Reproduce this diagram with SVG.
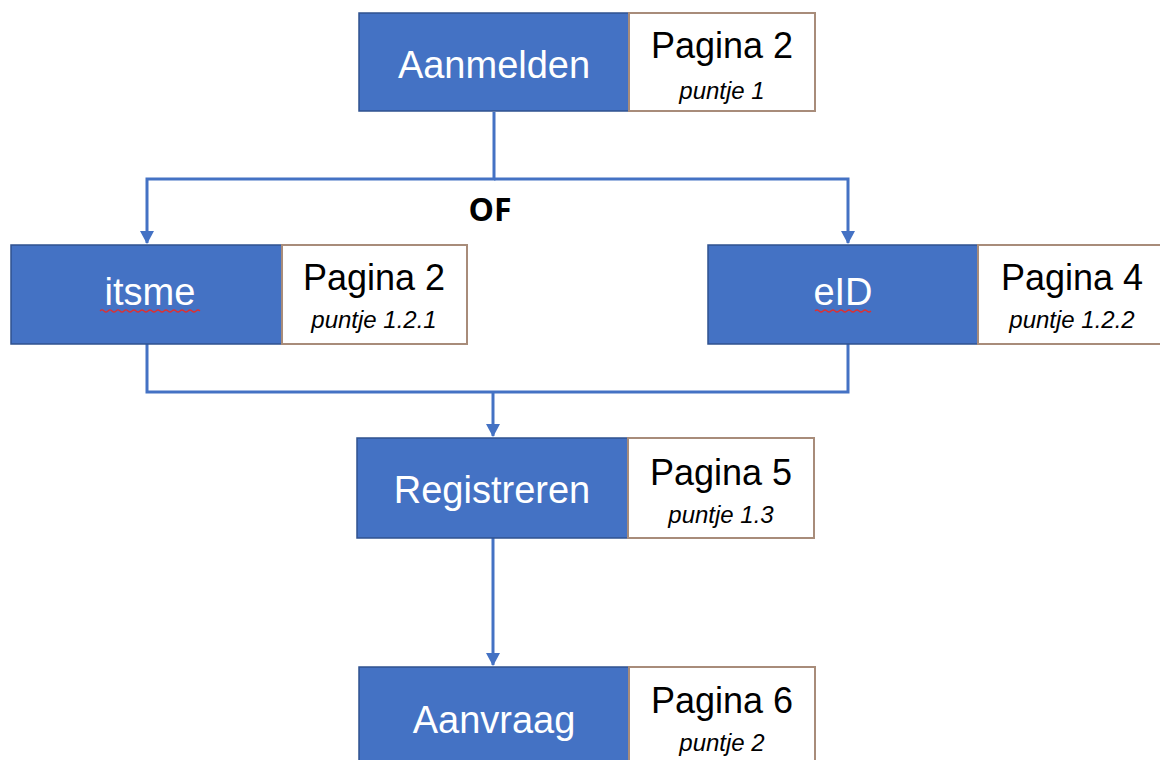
<svg xmlns="http://www.w3.org/2000/svg" width="1160" height="760" viewBox="0 0 1160 760">
<style>
.blue{fill:#4472C4;stroke:#2F528F;stroke-width:1.5}
.white{fill:#FFFFFF;stroke:#A88C7A;stroke-width:2}
.main{font-family:"Liberation Sans",Arial,sans-serif;font-size:38px;fill:#FFFFFF;text-anchor:middle}
.page{font-family:"Liberation Sans",Arial,sans-serif;font-size:36px;fill:#000000;text-anchor:middle}
.sub{font-family:"Liberation Sans",Arial,sans-serif;font-size:24px;font-style:italic;fill:#000000;text-anchor:middle}
.conn{fill:none;stroke:#4472C4;stroke-width:3}
.squig{fill:none;stroke:#E03030;stroke-width:1.2}
</style>
<defs>
<marker id="arr" markerWidth="14" markerHeight="14" refX="12" refY="7" orient="auto" markerUnits="userSpaceOnUse">
<path d="M0,0 L13,7 L0,14 Z" fill="#4472C4"/>
</marker>
</defs>
<rect width="1160" height="760" fill="#FFFFFF"/>
<g id="connectors">
<path class="conn" d="M494,112 V179 H147 V243" marker-end="url(#arr)"/>
<path class="conn" d="M494,179 H848 V243" marker-end="url(#arr)"/>
<path class="conn" d="M147,344 V392 H848 V344"/>
<path class="conn" d="M493,392 V436" marker-end="url(#arr)"/>
<path class="conn" d="M493,538 V665" marker-end="url(#arr)"/>
<text x="490" y="221" font-family="'Open Sans','Liberation Sans',Arial,sans-serif" font-size="32" font-weight="bold" text-anchor="middle" fill="#000000">OF</text>
</g>
<g id="aanmelden">
<rect class="blue" x="359" y="13" width="270" height="98"/>
<rect class="white" x="629" y="13" width="186" height="98"/>
<text class="main" x="494" y="78">Aanmelden</text>
<text class="page" x="722" y="58">Pagina 2</text>
<text class="sub" x="722" y="99">puntje 1</text>
</g>
<g id="itsme">
<rect class="blue" x="11" y="245" width="271" height="99"/>
<rect class="white" x="282" y="245" width="185" height="99"/>
<text class="main" x="150" y="305">itsme</text>
<path class="squig" d="M100,311 q2,-2 4,0 t4,0 t4,0 t4,0 t4,0 t4,0 t4,0 t4,0 t4,0 t4,0 t4,0 t4,0 t4,0 t4,0 t4,0 t4,0 t4,0 t4,0 t4,0 t4,0 t4,0 t4,0 t4,0 t4,0 t4,0"/>
<text class="page" x="374" y="290">Pagina 2</text>
<text class="sub" x="374" y="328">puntje 1.2.1</text>
</g>
<g id="eid">
<rect class="blue" x="708" y="245" width="270" height="99"/>
<rect class="white" x="978" y="245" width="186" height="99"/>
<text class="main" x="843" y="305">eID</text>
<path class="squig" d="M815,311 q2,-2 4,0 t4,0 t4,0 t4,0 t4,0 t4,0 t4,0 t4,0 t4,0 t4,0 t4,0 t4,0 t4,0 t4,0"/>
<text class="page" x="1072" y="290">Pagina 4</text>
<text class="sub" x="1072" y="328">puntje 1.2.2</text>
</g>
<g id="registreren">
<rect class="blue" x="357" y="438" width="271" height="100"/>
<rect class="white" x="628" y="438" width="186" height="100"/>
<text class="main" x="492" y="503">Registreren</text>
<text class="page" x="721" y="485">Pagina 5</text>
<text class="sub" x="721" y="523">puntje 1.3</text>
</g>
<g id="aanvraag">
<rect class="blue" x="359" y="667" width="270" height="100"/>
<rect class="white" x="629" y="667" width="186" height="100"/>
<text class="main" x="494" y="733">Aanvraag</text>
<text class="page" x="722" y="713">Pagina 6</text>
<text class="sub" x="722" y="751">puntje 2</text>
</g>
</svg>
